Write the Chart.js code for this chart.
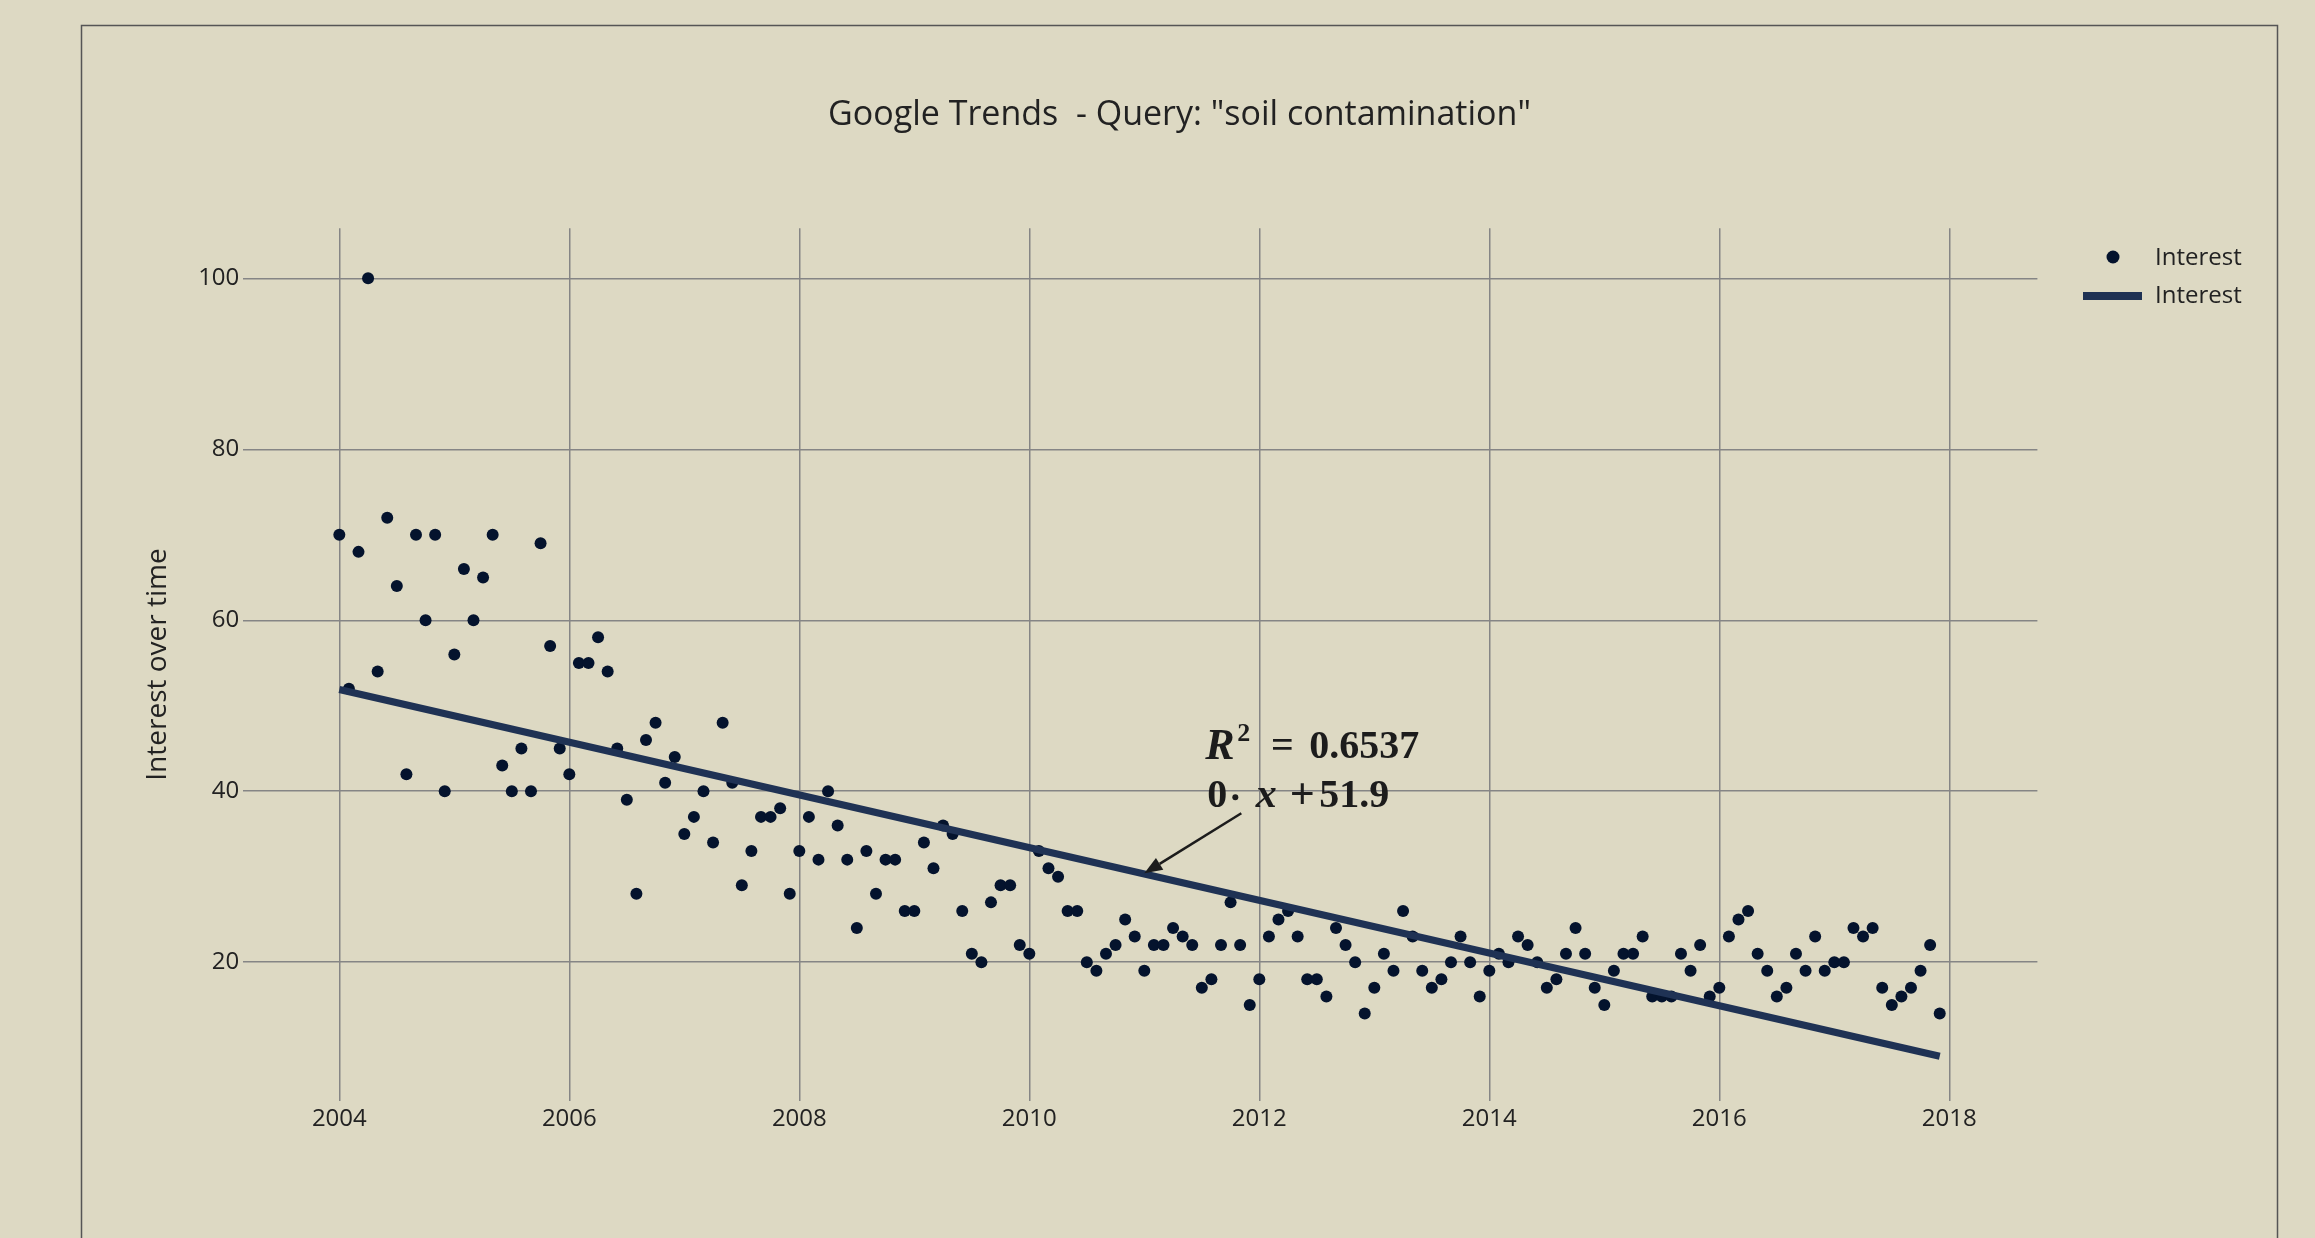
<!DOCTYPE html>
<html lang="en">
<head>
<meta charset="UTF-8">
<title>Google Trends - soil contamination</title>
<script src="https://cdn.jsdelivr.net/npm/chart.js@4.4.1/dist/chart.umd.min.js"></script>
<style>
    html, body { margin: 0; padding: 0; background: #ddd9c3; overflow: hidden; }
    #trendChart { display: block; }
</style>
</head>
<body>
<canvas id="trendChart" width="2315" height="1238"></canvas>
<script>
    // Monthly interest values (Google Trends), one array per year
    const interest2004 = [70, 52, 68, 100, 54, 72, 64, 42, 70, 60, 70, 40];
    const interest2005 = [56, 66, 60, 65, 70, 43, 40, 45, 40, 69, 57, 45];
    const interest2006 = [42, 55, 55, 58, 54, 45, 39, 28, 46, 48, 41, 44];
    const interest2007 = [35, 37, 40, 34, 48, 41, 29, 33, 37, 37, 38, 28];
    const interest2008 = [33, 37, 32, 40, 36, 32, 24, 33, 28, 32, 32, 26];
    const interest2009 = [26, 34, 31, 36, 35, 26, 21, 20, 27, 29, 29, 22];
    const interest2010 = [21, 33, 31, 30, 26, 26, 20, 19, 21, 22, 25, 23];
    const interest2011 = [19, 22, 22, 24, 23, 22, 17, 18, 22, 27, 22, 15];
    const interest2012 = [18, 23, 25, 26, 23, 18, 18, 16, 24, 22, 20, 14];
    const interest2013 = [17, 21, 19, 26, 23, 19, 17, 18, 20, 23, 20, 16];
    const interest2014 = [19, 21, 20, 23, 22, 20, 17, 18, 21, 24, 21, 17];
    const interest2015 = [15, 19, 21, 21, 23, 16, 16, 16, 21, 19, 22, 16];
    const interest2016 = [17, 23, 25, 26, 21, 19, 16, 17, 21, 19, 23, 19];
    const interest2017 = [20, 20, 24, 23, 24, 17, 15, 16, 17, 19, 22, 14];

    const firstYear = 2004;
    const lastYear = 2017;

    // Trend line end points
    const trendMonths = ['2004-01', '2017-12'];
    const trendValues = [51.9, 9.0];

    // Axis ticks
    const xTicks = [2004, 2006, 2008, 2010, 2012, 2014, 2016, 2018];
    const yTicks = [20, 40, 60, 80, 100];

    // Annotation
    const annotationMonth = '2011-01';
    const annotationValue = 30.4;

    const titleText = 'Google Trends  - Query: "soil contamination"';
    const seriesLabel = 'Interest';

    const interest = [].concat(
        interest2004, interest2005, interest2006, interest2007, interest2008,
        interest2009, interest2010, interest2011, interest2012, interest2013,
        interest2014, interest2015, interest2016, interest2017
    );

    // month categories 'YYYY-MM'
    const months = [];
    for (let y = firstYear; y <= lastYear; y++) {
        for (let m = 1; m <= 12; m++) {
            months.push(y + '-' + String(m).padStart(2, '0'));
        }
    }

    function monthToYear(str) {
        const parts = str.split('-');
        return Number(parts[0]) + (Number(parts[1]) - 1) / 12;
    }

    const markerColor = '#04132d';
    const lineColor = '#1f3254';
    const textColor = '#222222';

    // Title, legend, border and the R^2 annotation
    const decorPlugin = {
        id: 'decor',
        beforeDraw(chart) {
            const ctx = chart.ctx;
            ctx.save();
            ctx.strokeStyle = '#555555';
            ctx.lineWidth = 1.5;
            ctx.strokeRect(81.5, 25.5, 2196, 1300);
            ctx.restore();
        },
        afterDraw(chart) {
            const ctx = chart.ctx;
            const xs = chart.scales.x;
            const ys = chart.scales.y;
            ctx.save();

            // title
            ctx.fillStyle = textColor;
            ctx.font = '34px "Open Sans"';
            ctx.textAlign = 'center';
            ctx.textBaseline = 'middle';
            ctx.fillText(titleText, 1179.5, 115.5);

            // legend
            ctx.fillStyle = markerColor;
            ctx.beginPath();
            ctx.arc(2113, 257, 6.5, 0, Math.PI * 2);
            ctx.fill();
            ctx.strokeStyle = lineColor;
            ctx.lineWidth = 8;
            ctx.beginPath();
            ctx.moveTo(2083, 296);
            ctx.lineTo(2142, 296);
            ctx.stroke();
            ctx.fillStyle = textColor;
            ctx.font = '24px "Open Sans"';
            ctx.textAlign = 'left';
            ctx.fillText(seriesLabel, 2155, 258);
            ctx.fillText(seriesLabel, 2155, 296);

            // annotation arrow
            const tipX = xs.getPixelForValue(monthToYear(annotationMonth));
            const tipY = ys.getPixelForValue(annotationValue);
            const tailX = tipX + 97;
            const tailY = tipY - 60;
            const ang = Math.atan2(tipY - tailY, tipX - tailX);
            const headLen = 18, headW = 7;
            const baseX = tipX - headLen * Math.cos(ang);
            const baseY = tipY - headLen * Math.sin(ang);
            ctx.strokeStyle = '#1c1c1c';
            ctx.fillStyle = '#1c1c1c';
            ctx.lineWidth = 2.5;
            ctx.beginPath();
            ctx.moveTo(tailX, tailY);
            ctx.lineTo(baseX, baseY);
            ctx.stroke();
            ctx.beginPath();
            ctx.moveTo(tipX, tipY);
            ctx.lineTo(baseX + headW * Math.sin(ang), baseY - headW * Math.cos(ang));
            ctx.lineTo(baseX - headW * Math.sin(ang), baseY + headW * Math.cos(ang));
            ctx.closePath();
            ctx.fill();

            // annotation text
            const left = tipX + 63;
            const y1 = tipY - 126;
            const y2 = tipY - 77;
            ctx.fillStyle = '#1c1c1c';
            ctx.textBaseline = 'middle';
            ctx.textAlign = 'left';
            ctx.font = 'italic bold 44px "Liberation Serif"';
            ctx.fillText('R', left - 2, y1);
            ctx.font = 'bold 26px "Liberation Serif"';
            ctx.fillText('2', left + 30, y1 - 13);
            ctx.font = 'bold 40px "Liberation Serif"';
            ctx.textAlign = 'center';
            ctx.fillText('=', left + 75, y1);
            ctx.textAlign = 'left';
            ctx.fillText('0.6537', left + 102, y1);

            ctx.fillText('0', left, y2);
            ctx.beginPath();
            ctx.arc(left + 28, y2 + 1, 3, 0, Math.PI * 2);
            ctx.fill();
            ctx.textAlign = 'center';
            ctx.font = 'italic bold 42px "Liberation Serif"';
            ctx.fillText('x', left + 59, y2);
            ctx.font = 'bold 44px "Liberation Serif"';
            ctx.fillText('+', left + 95, y2);
            ctx.font = 'bold 40px "Liberation Serif"';
            ctx.textAlign = 'left';
            ctx.fillText('51.9', left + 112, y2);

            ctx.restore();
        }
    };

    const gridColor = '#858585';

    const ctx = document.getElementById('trendChart').getContext('2d');
    const trendChart = new Chart(ctx, {
        type: 'scatter',
        data: {
            datasets: [
                {
                    label: seriesLabel,
                    data: months.map((m, i) => ({ x: monthToYear(m), y: interest[i] })),
                    pointRadius: 6,
                    pointBackgroundColor: markerColor,
                    pointBorderWidth: 0,
                    order: 2
                },
                {
                    type: 'line',
                    label: seriesLabel,
                    data: trendMonths.map((m, i) => ({ x: monthToYear(m), y: trendValues[i] })),
                    borderColor: lineColor,
                    borderWidth: 7,
                    pointRadius: 0,
                    fill: false,
                    order: 1
                }
            ]
        },
        options: {
            responsive: false,
            animation: false,
            devicePixelRatio: 1,
            layout: {
                padding: { left: 81, right: 277.6, top: 228.3, bottom: 0 }
            },
            plugins: {
                legend: { display: false },
                title: { display: false },
                tooltip: { enabled: false }
            },
            scales: {
                x: {
                    type: 'linear',
                    min: 2003.165,
                    max: 2018.766,
                    afterFit: scale => { scale.height = 137.3; },
                    afterBuildTicks: scale => { scale.ticks = xTicks.map(v => ({ value: v })); },
                    border: { display: false },
                    grid: { color: gridColor, lineWidth: 1.5, drawTicks: false },
                    ticks: {
                        padding: 4,
                        autoSkip: false,
                        maxRotation: 0,
                        color: textColor,
                        font: { family: 'Open Sans', size: 24 },
                        callback: v => String(v)
                    }
                },
                y: {
                    min: 3.8,
                    max: 105.85,
                    afterFit: scale => { scale.width = 162.3; },
                    afterBuildTicks: scale => { scale.ticks = yTicks.map(v => ({ value: v })); },
                    border: { display: false },
                    grid: { color: gridColor, lineWidth: 1.5, drawTicks: false },
                    ticks: {
                        padding: 4,
                        color: textColor,
                        font: { family: 'Open Sans', size: 24 },
                        callback: v => String(v)
                    },
                    title: {
                        display: true,
                        text: 'Interest over time',
                        color: textColor,
                        font: { family: 'Open Sans', size: 28 },
                        padding: { top: 60, bottom: 0 }
                    }
                }
            }
        },
        plugins: [decorPlugin]
    });
</script>
</body>
</html>
